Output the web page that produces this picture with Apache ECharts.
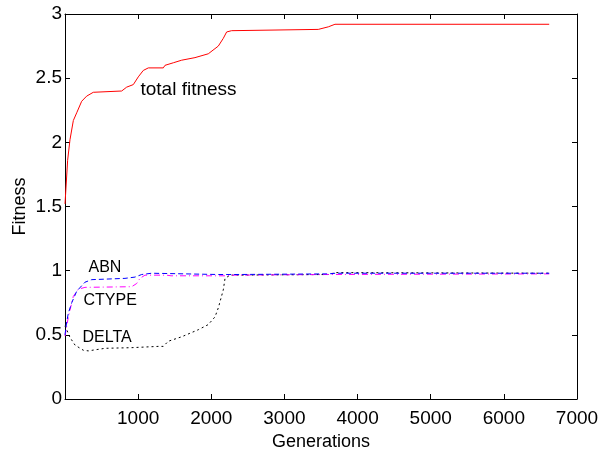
<!DOCTYPE html>
<html>
<head>
<meta charset="utf-8">
<script src="https://cdn.jsdelivr.net/npm/echarts@6/dist/echarts.min.js"></script>
<style>
  html, body { margin: 0; padding: 0; background: #fff; }
  #chart { width: 600px; height: 452px; }
</style>
</head>
<body>
<div id="chart"></div>
<script>
// values
const totalGen = [0, 36, 68, 114, 160, 228, 296, 387, 775, 843, 934, 1002, 1070, 1139, 1344, 1367, 1481, 1595, 1777, 1959, 2096, 2164, 2210, 2278, 3463, 3600, 3691, 6620]
const totalFit = [1.52, 1.86, 2.02, 2.17, 2.23, 2.32, 2.36, 2.39, 2.40, 2.43, 2.45, 2.51, 2.56, 2.58, 2.58, 2.60, 2.62, 2.64, 2.66, 2.69, 2.75, 2.81, 2.86, 2.87, 2.88, 2.90, 2.92, 2.92]

const abnGen = [0, 23, 46, 92, 160, 273, 365, 820, 957, 1048, 1185, 2100, 2300, 3600, 3700, 6620]
const abnFit = [0.50, 0.60, 0.67, 0.75, 0.84, 0.91, 0.93, 0.94, 0.95, 0.97, 0.98, 0.97, 0.97, 0.975, 0.98, 0.98]

const ctypeGen = [0, 46, 114, 182, 273, 912, 980, 1025, 1093, 1390, 1450, 2200, 2260, 3600, 6620]
const ctypeFit = [0.49, 0.64, 0.80, 0.855, 0.87, 0.875, 0.90, 0.94, 0.965, 0.965, 0.96, 0.96, 0.965, 0.97, 0.975]

const deltaGen = [0, 23, 68, 137, 250, 318, 547, 912, 1276, 1344, 1412, 1596, 1823, 1959, 2051, 2096, 2164, 2188, 2256, 3600, 3700, 6620]
const deltaFit = [0.57, 0.54, 0.48, 0.42, 0.38, 0.375, 0.395, 0.40, 0.41, 0.41, 0.45, 0.485, 0.54, 0.58, 0.64, 0.71, 0.85, 0.94, 0.965, 0.97, 0.985, 0.98]

// text annotations: [label, generation, fitness]
const labelText = ['total fitness', 'ABN', 'CTYPE', 'DELTA']
const labelGen = [1025, 314, 246, 232]
const labelFit = [2.41, 1.025, 0.764, 0.479]

const FONT = '"Liberation Sans", Arial, sans-serif'

function pairs(xs, ys) {
  return xs.map(function (x, i) { return [x, ys[i]] })
}

function note(i, size) {
  return {
    symbol: 'circle',
    symbolSize: 1,
    itemStyle: { color: 'rgba(0,0,0,0)' },
    label: {
      show: true, position: 'right', distance: 0,
      formatter: labelText[i],
      color: '#000', fontSize: size, fontFamily: FONT
    },
    data: [{ coord: [labelGen[i], labelFit[i]] }]
  }
}

const chart = echarts.init(document.getElementById('chart'))

function axisBase() {
  return {
    axisLine: { show: true, onZero: false, lineStyle: { color: '#000', width: 1 } },
    axisTick: { show: true, inside: true, length: 5, lineStyle: { color: '#000' } },
    splitLine: { show: false },
    nameMoveOverlap: false
  }
}

chart.setOption({
  animation: false,
  grid: { left: 65, right: 23, top: 14, bottom: 53, show: false, outerBoundsMode: 'none', containLabel: false },
  xAxis: [
    Object.assign(axisBase(), {
      type: 'value', min: 0, max: 7000, interval: 1000,
      name: 'Generations', nameLocation: 'middle', nameGap: 34,
      nameTextStyle: { color: '#000', fontSize: 18, fontFamily: FONT },
      axisLabel: {
        color: '#000', fontSize: 19, fontFamily: FONT, margin: 10,
        formatter: function (v) { return v === 0 ? '' : String(v) }
      }
    }),
    Object.assign(axisBase(), {
      type: 'value', min: 0, max: 7000, interval: 1000, position: 'top',
      axisLabel: { show: false }
    })
  ],
  yAxis: [
    Object.assign(axisBase(), {
      type: 'value', min: 0, max: 3, interval: 0.5,
      name: 'Fitness', nameLocation: 'middle', nameGap: 36,
      nameTextStyle: { color: '#000', fontSize: 18, fontFamily: FONT },
      axisLabel: { color: '#000', fontSize: 19, fontFamily: FONT, margin: 3 }
    }),
    Object.assign(axisBase(), {
      type: 'value', min: 0, max: 3, interval: 0.5, position: 'right',
      axisLabel: { show: false }
    })
  ],
  series: [
    {
      name: 'total fitness', type: 'line', data: pairs(totalGen, totalFit),
      showSymbol: false, lineStyle: { color: '#ff0000', width: 1 },
      markPoint: note(0, 19)
    },
    {
      name: 'DELTA', type: 'line', data: pairs(deltaGen, deltaFit),
      showSymbol: false, lineStyle: { color: '#000', width: 1, type: [2, 3] },
      markPoint: note(3, 16)
    },
    {
      name: 'CTYPE', type: 'line', data: pairs(ctypeGen, ctypeFit),
      showSymbol: false, lineStyle: { color: '#ff00ff', width: 1, type: [6, 3, 1, 3] },
      markPoint: note(2, 16)
    },
    {
      name: 'ABN', type: 'line', data: pairs(abnGen, abnFit),
      showSymbol: false, lineStyle: { color: '#0000ff', width: 1, type: [5, 3] },
      markPoint: note(1, 16)
    }
  ]
})
</script>
</body>
</html>
